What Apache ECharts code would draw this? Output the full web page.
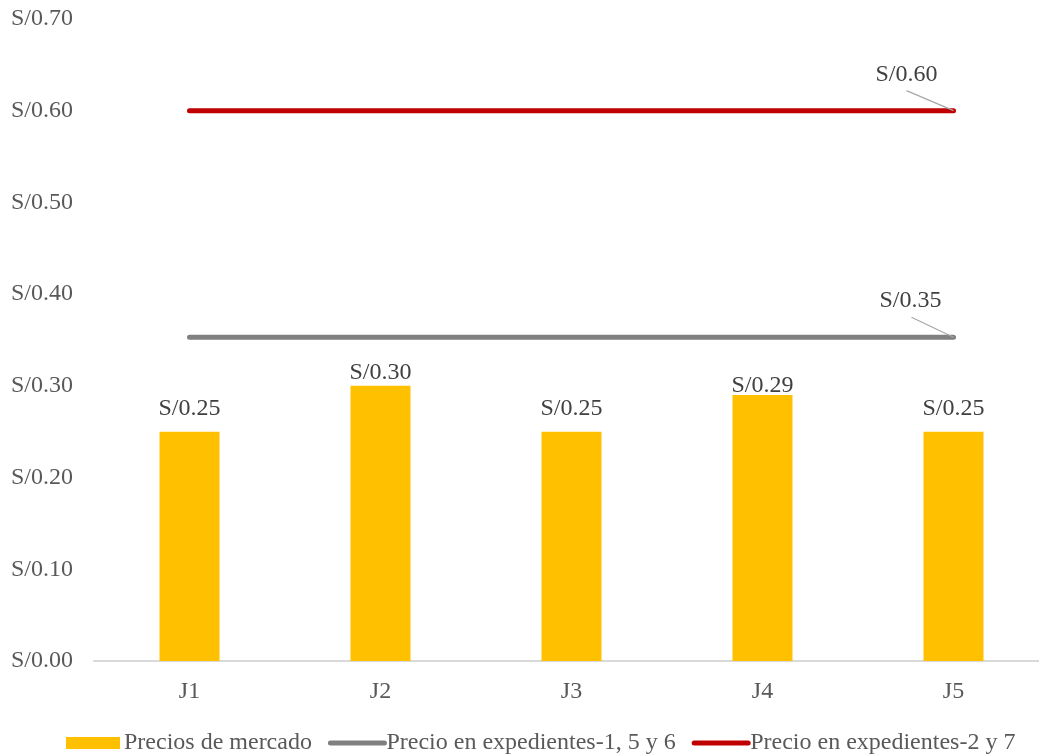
<!DOCTYPE html>
<html><head><meta charset="utf-8">
<script src="https://cdn.jsdelivr.net/npm/echarts@6/dist/echarts.min.js"></script>
<style>html,body{margin:0;padding:0;background:#fff}#c{width:1039px;height:755px}</style>
</head><body><div id="c"></div>
<script>
const categories = ['J1','J2','J3','J4','J5'];
const marketPrices = [0.25, 0.30, 0.25, 0.29, 0.25];
const price156 = [0.353, 0.353, 0.353, 0.353, 0.353];
const price27 = [0.60, 0.60, 0.60, 0.60, 0.60];
const seriesNames = ['Precios de mercado', 'Precio en expedientes-1, 5 y 6', 'Precio en expedientes-2 y 7'];

// label styling (gap between bar top and its value label, px)
const barLabelDistances = [11, 1, 11, -3, 11];

const FONT = '"Liberation Serif", "Times New Roman", serif';
const fmt = v => 'S/' + Number(v).toFixed(2);
const last = arr => arr.length - 1;

function barData(arr) {
  return arr.map((v, i) => ({ value: v, label: { distance: barLabelDistances[i] } }));
}
function lineData(arr) {
  return arr.map((v, i) => i === last(arr)
    ? { value: v, symbol: 'circle', symbolSize: 4, label: { show: true } }
    : { value: v });
}
function leader(arr, w, h) {
  return {
    silent: true,
    symbol: 'path://M0,0L' + w + ',' + h,
    symbolSize: [w, h],
    symbolOffset: ['-50%', '-50%'],
    symbolKeepAspect: false,
    itemStyle: { color: 'transparent', borderColor: '#a6a6a6', borderWidth: 1.5 },
    label: { show: false },
    data: [{ coord: [categories[last(arr)], arr[last(arr)]] }]
  };
}

const chart = echarts.init(document.getElementById('c'), null, { renderer: 'canvas' });
chart.setOption({
  animation: false,
  textStyle: { fontFamily: FONT },
  grid: { left: 94, width: 955, top: 19, bottom: 94, containLabel: false, outerBoundsMode: 'none' },
  legend: {
    bottom: 0, left: 66, padding: 0,
    itemWidth: 54, itemHeight: 12, itemGap: 16,
    textStyle: { fontFamily: FONT, fontSize: 24, color: '#595959', padding: [0, 0, 0, -3] },
    data: [
      { name: seriesNames[0], icon: 'rect', textStyle: { padding: [0, 0, 0, -1] } },
      { name: seriesNames[1], itemStyle: { opacity: 0 }, lineStyle: { width: 5, cap: 'round' } },
      { name: seriesNames[2], itemStyle: { opacity: 0 }, lineStyle: { width: 5, cap: 'round' } }
    ]
  },
  xAxis: {
    type: 'category', data: categories, boundaryGap: true,
    axisLine: { lineStyle: { color: '#d9d9d9', width: 2 } },
    axisTick: { show: false },
    axisLabel: { fontFamily: FONT, fontSize: 24, color: '#595959', margin: 19 }
  },
  yAxis: {
    type: 'value', min: 0, max: 0.7, interval: 0.1,
    axisLine: { show: false }, axisTick: { show: false },
    splitLine: { show: false },
    axisLabel: { fontFamily: FONT, fontSize: 24, color: '#595959', margin: 21, formatter: v => fmt(v) }
  },
  series: [
    {
      name: seriesNames[0], type: 'bar', data: barData(marketPrices), barWidth: 60,
      itemStyle: { color: '#FFC000' },
      label: { show: true, position: 'top', distance: 6, fontFamily: FONT, fontSize: 24, color: '#404040', formatter: p => fmt(p.value) }
    },
    {
      name: seriesNames[1], type: 'line', data: lineData(price156), symbol: 'none',
      lineStyle: { color: '#808080', width: 5, cap: 'round' },
      itemStyle: { color: '#808080' },
      label: { show: false, position: 'top', fontFamily: FONT, fontSize: 24, color: '#404040', formatter: p => fmt(p.value) },
      labelLayout: { dx: -43, dy: -18 },
      markPoint: leader(price156, 42, 20)
    },
    {
      name: seriesNames[2], type: 'line', data: lineData(price27), symbol: 'none',
      lineStyle: { color: '#C00000', width: 5, cap: 'round' },
      itemStyle: { color: '#C00000' },
      label: { show: false, position: 'top', fontFamily: FONT, fontSize: 24, color: '#404040', formatter: p => fmt(p.value) },
      labelLayout: { dx: -47, dy: -17 },
      markPoint: leader(price27, 47, 20)
    }
  ]
});
</script></body></html>
